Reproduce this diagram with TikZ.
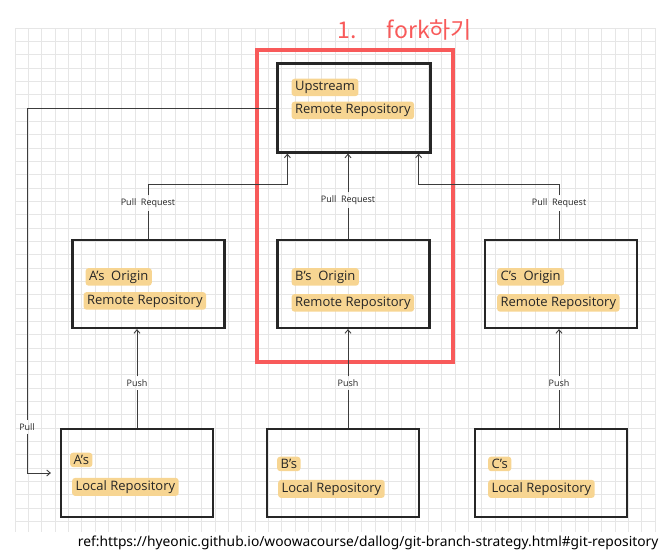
\documentclass[tikz,border=0pt]{standalone}
\usepackage{fontspec}
\setmainfont{Open Sans}
\newfontfamily\krfont{Noto Sans CJK KR}
\newfontfamily\reffont{Noto Sans}
\usetikzlibrary{arrows.meta,calc,positioning}
\definecolor{gridgray}{HTML}{E6E6E6}
\definecolor{forkred}{HTML}{F85A5A}
\definecolor{marker}{HTML}{F7D592}
\definecolor{pen}{HTML}{262626}

\begin{document}
\begin{tikzpicture}[x=1pt,y=-1pt,
  repo/.style={draw=pen,line width=2.2pt,minimum width=152pt,minimum height=88pt,inner sep=0pt},
  hl/.style={anchor=west,fill=marker,rounded corners=3pt,inner xsep=3.5pt,inner ysep=2.5pt,font=\fontsize{13}{13}\selectfont,text=pen},
  lbl/.style={font=\fontsize{9}{9}\selectfont,text=pen,inner sep=3pt},
  link/.style={draw=pen!90,line width=0.9pt},
  arr/.style={link,-{Straight Barb[length=3.5pt,width=6pt]}}]
  \useasboundingbox (0,0) rectangle (672,558);
  % Raster im Hintergrund
  \foreach \gx in {0,...,48}
    \draw[gridgray,line width=0.6pt] (15+\gx*13.33,28) -- (15+\gx*13.33,532);
  \foreach \gy in {0,...,37}
    \draw[gridgray,line width=0.6pt] (15,28+\gy*13.33) -- (655,28+\gy*13.33);

  % Repositories
  \node[repo,minimum width=153pt,minimum height=89pt] (up) at (354,108) {};
  \node[repo] (aorigin) at (148.5,284) {};
  \node[repo] (borigin) at (353.5,284) {};
  \node[repo] (corigin) at (561,284) {};
  \node[repo] (alocal) at (137,473) {};
  \node[repo] (blocal) at (343,473) {};
  \node[repo] (clocal) at (551,473) {};

  \node[hl] (up-1) at ($(up.north west)+(15,25)$) {Upstream};
  \node[hl] (up-2) at ($(up.north west)+(15,48)$) {Remote Repository};
  \node[hl] (aorigin-1) at ($(aorigin.north west)+(14,38)$) {A's\ \ Origin};
  \node[hl] (aorigin-2) at ($(aorigin.north west)+(12,62)$) {Remote Repository};
  \node[hl] (borigin-1) at ($(borigin.north west)+(15,38)$) {B's\ \ Origin};
  \node[hl] (borigin-2) at ($(borigin.north west)+(15,64)$) {Remote Repository};
  \node[hl] (corigin-1) at ($(corigin.north west)+(13,38)$) {C's\ \ Origin};
  \node[hl] (corigin-2) at ($(corigin.north west)+(13,64)$) {Remote Repository};
  \node[hl] (alocal-1) at ($(alocal.north west)+(10,32)$) {A's};
  \node[hl] (alocal-2) at ($(alocal.north west)+(12,59)$) {Local Repository};
  \node[hl] (blocal-1) at ($(blocal.north west)+(11,36)$) {B's};
  \node[hl] (blocal-2) at ($(blocal.north west)+(12,61)$) {Local Repository};
  \node[hl] (clocal-1) at ($(clocal.north west)+(14,36)$) {C's};
  \node[hl] (clocal-2) at ($(clocal.north west)+(14,61)$) {Local Repository};

  % fork-Rahmen
  \node[draw=forkred,line width=4pt,minimum width=196pt,minimum height=312pt] (fork) at (354.5,206) {};
  \node[font=\krfont\fontsize{23}{23}\selectfont,text=forkred] (title) at (405,30) {1.\hspace{1.3em}fork하기};

  % Beschriftungen
  \node[lbl] (pr-a) at (148,203) {Pull\ \ Request};
  \node[lbl] (pr-b) at (348,200) {Pull\ \ Request};
  \node[lbl] (pr-c) at (559,203) {Pull\ \ Request};
  \node[lbl] (push-a) at (137,383) {Push};
  \node[lbl] (push-b) at (348,383) {Push};
  \node[lbl] (push-c) at (559,383) {Push};
  \node[lbl] (pull) at (27,427) {Pull};
  \coordinate (prline) at (0,184);

  % Verbindungen
  \draw[link] (pr-a |- aorigin.north) -- (pr-a.south);
  \draw[arr] (pr-a.north) -- (pr-a.north |- prline) -| ($(up.south west)+(11,0)$);
  \draw[link] (pr-b |- borigin.north) -- (pr-b.south);
  \draw[arr] (pr-b.north) -- (pr-b |- up.south);
  \draw[link] (pr-c |- corigin.north) -- (pr-c.south);
  \draw[arr] (pr-c.north) -- (pr-c.north |- prline) -| ($(up.south east)+(-13,0)$);
  \draw[link] (push-a |- alocal.north) -- (push-a.south);
  \draw[arr] (push-a.north) -- (push-a |- aorigin.south);
  \draw[link] (push-b |- blocal.north) -- (push-b.south);
  \draw[arr] (push-b.north) -- (push-b |- borigin.south);
  \draw[link] (push-c |- clocal.north) -- (push-c.south);
  \draw[arr] (push-c.north) -- (push-c |- corigin.south);
  \draw[link] (up.west) -| (pull.north);
  \draw[arr] (pull.south) |- ($(alocal.west)+(-9,0)$);

  \node[font=\reffont\fontsize{13.8}{14}\selectfont,anchor=east] (ref) at (662,543)
    {ref:https://hyeonic.github.io/woowacourse/dallog/git-branch-strategy.html\#git-repository};
\end{tikzpicture}
\end{document}
